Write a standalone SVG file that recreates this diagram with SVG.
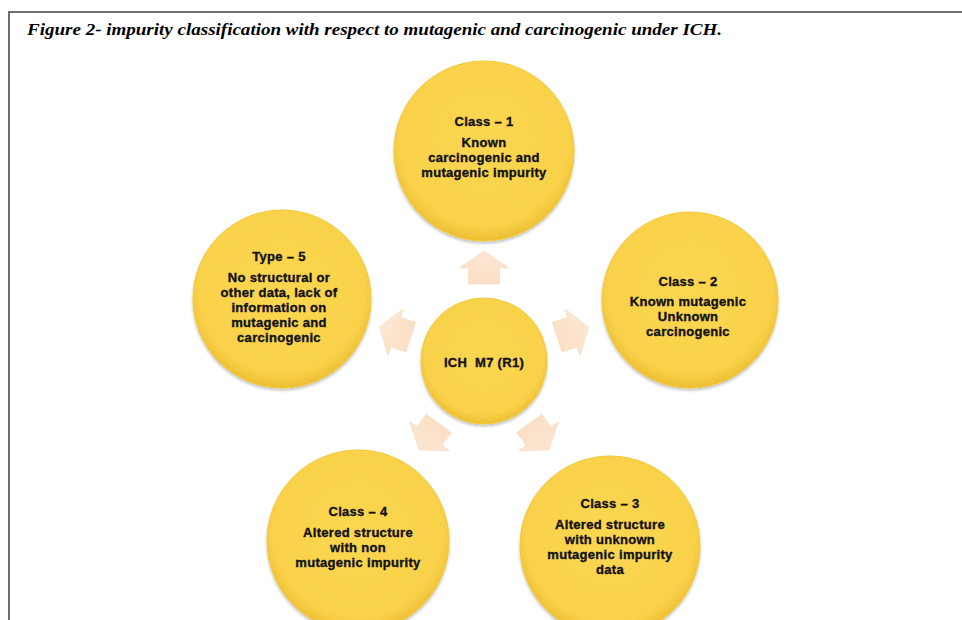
<svg xmlns="http://www.w3.org/2000/svg" width="962" height="620" viewBox="0 0 962 620">
  <defs>
    <radialGradient id="ball" cx="50%" cy="45%" r="55%">
      <stop offset="0" stop-color="#FBD651"/>
      <stop offset="0.85" stop-color="#F9D24A"/>
      <stop offset="1" stop-color="#EDBE32"/>
    </radialGradient>
    <linearGradient id="arr" x1="0" y1="0" x2="0" y2="1">
      <stop offset="0" stop-color="#FDE7D3"/>
      <stop offset="1" stop-color="#FBDFC5"/>
    </linearGradient>
    <filter id="sh" x="-10%" y="-10%" width="120%" height="120%">
      <feGaussianBlur in="SourceAlpha" stdDeviation="1.5"/>
      <feOffset dx="0" dy="1.5" result="b"/>
      <feComponentTransfer><feFuncA type="linear" slope="0.25"/></feComponentTransfer>
      <feMerge><feMergeNode/><feMergeNode in="SourceGraphic"/></feMerge>
    </filter>
  </defs>
  <style>
    .frame { stroke: #6e6e6e; stroke-width: 2; fill: none; }
    .title { font-family: "Liberation Serif", "Times New Roman", serif; font-style: italic; font-weight: bold; font-size: 16px; fill: #000; }
    .node circle { fill: url(#ball); stroke: #F2C83A; stroke-width: 1; filter: url(#sh); }
    .node text { font-family: "Liberation Sans", Arial, sans-serif; font-weight: bold; font-size: 13px; letter-spacing: 0.3px; fill: #111; stroke: #111; stroke-width: 0.35; text-anchor: middle; }
    .arrow { fill: url(#arr); stroke: #F6D9BC; stroke-width: 0.6; }
  </style>
  <rect width="962" height="620" fill="#ffffff"/>
  <path class="frame" d="M9,620 V12 H962"/>
  <text class="title" x="27" y="35" textLength="695" lengthAdjust="spacingAndGlyphs">Figure 2- impurity classification with respect to mutagenic and carcinogenic under ICH.</text>

  <g id="connectors">
    <polygon class="arrow" transform="translate(484,361) rotate(0)" points="0,-110 24.5,-93 15.5,-93 15.5,-77 -15.5,-77 -15.5,-93 -24.5,-93"/>
    <polygon class="arrow" transform="translate(484,361) rotate(72)" points="0,-110 24.5,-93 15.5,-93 15.5,-77 -15.5,-77 -15.5,-93 -24.5,-93"/>
    <polygon class="arrow" transform="translate(484,361) rotate(144)" points="0,-110 24.5,-93 15.5,-93 15.5,-77 -15.5,-77 -15.5,-93 -24.5,-93"/>
    <polygon class="arrow" transform="translate(484,361) rotate(216)" points="0,-110 24.5,-93 15.5,-93 15.5,-77 -15.5,-77 -15.5,-93 -24.5,-93"/>
    <polygon class="arrow" transform="translate(484,361) rotate(288)" points="0,-110 24.5,-93 15.5,-93 15.5,-77 -15.5,-77 -15.5,-93 -24.5,-93"/>
  </g>

  <g id="center" class="node">
    <circle cx="484" cy="361" r="63"/>
    <text x="484" y="367" xml:space="preserve">ICH  M7 (R1)</text>
  </g>

  <g id="class1" class="node">
    <circle cx="484" cy="151" r="90"/>
    <text x="484" y="126">Class – 1</text>
    <text x="484" y="147">Known</text>
    <text x="484" y="162">carcinogenic and</text>
    <text x="484" y="177">mutagenic impurity</text>
  </g>

  <g id="class2" class="node">
    <circle cx="690" cy="300" r="88"/>
    <text x="688" y="286">Class – 2</text>
    <text x="688" y="306">Known mutagenic</text>
    <text x="688" y="321">Unknown</text>
    <text x="688" y="336">carcinogenic</text>
  </g>

  <g id="class3" class="node">
    <circle cx="610" cy="546" r="90"/>
    <text x="610" y="508">Class – 3</text>
    <text x="610" y="529">Altered structure</text>
    <text x="610" y="544">with unknown</text>
    <text x="610" y="559">mutagenic impurity</text>
    <text x="610" y="574">data</text>
  </g>

  <g id="class4" class="node">
    <circle cx="358" cy="541" r="91"/>
    <text x="358" y="516">Class – 4</text>
    <text x="358" y="537">Altered structure</text>
    <text x="358" y="552">with non</text>
    <text x="358" y="567">mutagenic impurity</text>
  </g>

  <g id="type5" class="node">
    <circle cx="282" cy="299" r="89"/>
    <text x="279" y="261">Type – 5</text>
    <text x="279" y="282">No structural or</text>
    <text x="279" y="297">other data, lack of</text>
    <text x="279" y="312">information on</text>
    <text x="279" y="327">mutagenic and</text>
    <text x="279" y="342">carcinogenic</text>
  </g>
</svg>
